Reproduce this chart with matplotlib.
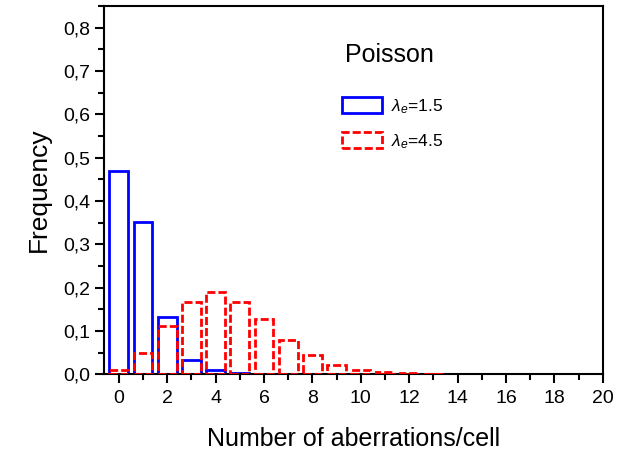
import matplotlib
matplotlib.use("Agg")
import matplotlib.pyplot as plt
from matplotlib.patches import Rectangle
from matplotlib.ticker import MultipleLocator, FuncFormatter

counts = list(range(0, 14))
freq_low = [0.470, 0.352, 0.132, 0.032, 0.009, 0.003, 0, 0, 0, 0, 0, 0, 0, 0]
freq_high = [0.010, 0.050, 0.112, 0.166, 0.189, 0.168, 0.127, 0.080,
             0.045, 0.021, 0.010, 0.005, 0.002, 0.001]
label_low = r"$\lambda_{e}$=1.5"
label_high = r"$\lambda_{e}$=4.5"

plt.rcParams.update({"font.family": ["Liberation Sans", "DejaVu Sans"],
                     "mathtext.fontset": "custom",
                     "mathtext.it": "Liberation Sans:italic",
                     "mathtext.rm": "Liberation Sans"})
fig = plt.figure(figsize=(6.19, 4.53), dpi=100)
ax = fig.add_axes([0.1685, 0.1737, 0.8052, 0.8131])

RED_DASH = (0, (2.9, 1.1))
ax.bar(counts, freq_low, width=0.78, fill=False, edgecolor="#0000ff",
       linewidth=2.0, zorder=2)
ax.bar(counts, freq_high, width=0.78, fill=False, edgecolor="#ff0000",
       linewidth=2.0, linestyle=RED_DASH, zorder=3)

ax.set_xlim(-0.6, 20)
ax.set_ylim(0, 0.85)
ax.xaxis.set_major_locator(MultipleLocator(2))
ax.xaxis.set_minor_locator(MultipleLocator(1))
ax.yaxis.set_major_locator(MultipleLocator(0.1))
ax.yaxis.set_minor_locator(MultipleLocator(0.05))
ax.yaxis.set_major_formatter(FuncFormatter(lambda v, p: f"{v:.1f}".replace(".", ",")))
ax.tick_params(which="major", direction="out", length=6.5, width=1.5,
               labelsize=14, pad=3.5)
ax.tick_params(which="minor", direction="out", length=4, width=1.5)
ax.tick_params(axis="x", which="major", pad=5)
for s in ax.spines.values():
    s.set_linewidth(1.5)

ax.set_xlabel("Number of aberrations/cell", fontsize=18, labelpad=14)
ax.set_ylabel("Frequency", fontsize=19, labelpad=9)

fig.text(345 / 619, 1 - 55 / 453, "Poisson", fontsize=18, ha="left", va="center")
handles = [Rectangle((0, 0), 1, 1, fill=False, edgecolor="#0000ff", linewidth=2.0),
           Rectangle((0, 0), 1, 1, fill=False, edgecolor="#ff0000", linewidth=2.0,
                     linestyle=RED_DASH)]
fig.legend(handles, [label_low, label_high], loc="upper left",
           bbox_to_anchor=(342 / 619, 1 - 97 / 453), frameon=False,
           fontsize=12.5, handlelength=2.3, handleheight=1.0, handletextpad=0.55,
           labelspacing=0.95, borderpad=0, borderaxespad=0)

fig.savefig("out.png", dpi=100, facecolor="white")
